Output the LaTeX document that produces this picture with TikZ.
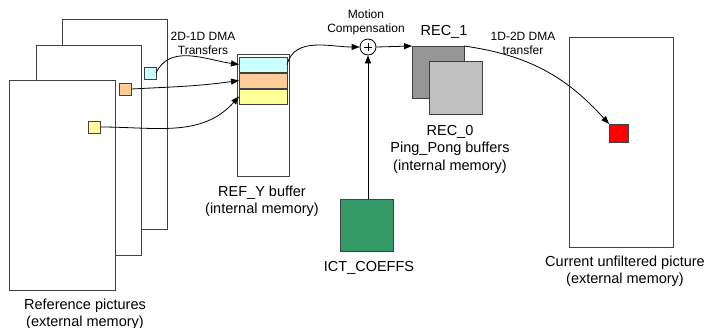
\documentclass[tikz,border=0pt]{standalone}
\usepackage{fontspec}
\setmainfont{Liberation Sans}
\usetikzlibrary{arrows.meta}
\definecolor{bord}{HTML}{404040}
\definecolor{cyanf}{HTML}{CCFFFF}
\definecolor{orangef}{HTML}{FFCC99}
\definecolor{yellowf}{HTML}{FFFF99}
\definecolor{darkg}{HTML}{969696}
\definecolor{lightg}{HTML}{C0C0C0}
\definecolor{greenf}{HTML}{339966}
\definecolor{redf}{HTML}{FF0000}
\tikzset{
  box/.style={draw=bord, line width=1pt, inner sep=0pt, outer sep=0pt},
  bigtxt/.style={font=\fontsize{14.5}{17.5}\selectfont, align=center, inner sep=0pt},
  smalltxt/.style={font=\fontsize{12}{14}\selectfont, align=center, inner sep=0pt},
  arr/.style={draw=black, line width=0.8pt, -{Triangle[length=8pt,width=6pt]}},
}
\begin{document}
\begin{tikzpicture}[x=1pt,y=-1pt]
\useasboundingbox (0,0) rectangle (706,327);
% reference pictures
\node[box, fill=white, minimum width=105, minimum height=210] (pic3) at (114.5,124) {};
\node[box, fill=white, minimum width=105, minimum height=210] (pic2) at (88.5,150) {};
\node[box, fill=white, minimum width=106, minimum height=210] (pic1) at (62,185) {};
\node[box, fill=cyanf, minimum width=12, minimum height=12] (sqc) at (150,73) {};
\node[box, fill=orangef, minimum width=12, minimum height=12] (sqo) at (125.5,89) {};
\node[box, fill=yellowf, minimum width=12, minimum height=12] (sqy) at (94.5,127) {};
\node[bigtxt] (reflab) at (85,314) {Reference pictures\\(external memory)};
% REF_Y buffer
\node[box, fill=white, minimum width=52, minimum height=122] (refy) at (263,115) {};
\node[box, fill=cyanf, minimum width=48, minimum height=15] (stc) at (263,64.5) {};
\node[box, fill=orangef, minimum width=48, minimum height=15] (sto) at (263,80.5) {};
\node[box, fill=yellowf, minimum width=48, minimum height=15] (sty) at (263,96.5) {};
\node[bigtxt] (refylab) at (262,201) {REF\_Y buffer\\(internal memory)};
\node[smalltxt] (dma1) at (203,43) {2D-1D DMA\\Transfers};
% sum
\node[draw=black, line width=0.8pt, circle, minimum size=16, inner sep=0pt] (sum) at (368,47) {};
\draw[line width=0.7pt] (sum.center) ++(-4,0) -- ++(8,0);
\draw[line width=0.7pt] (sum.center) ++(0,-4) -- ++(0,8);
\node[smalltxt] (mclab) at (366,22) {Motion\\Compensation};
% REC buffers
\node[box, fill=darkg, minimum width=52, minimum height=52] (rec1) at (438,72) {};
\node[box, fill=lightg, minimum width=53, minimum height=53] (rec0) at (455.5,87.5) {};
\node[bigtxt] (rec1lab) at (444,32) {REC\_1};
\node[bigtxt] (rec0lab) at (450,149) {REC\_0\\Ping\_Pong buffers\\(internal memory)};
% ICT
\node[box, fill=greenf, minimum width=53, minimum height=52] (ict) at (366.5,225) {};
\node[bigtxt] (ictlab) at (369,268) {ICT\_COEFFS};
% current picture
\node[box, fill=white, minimum width=104, minimum height=210] (cur) at (621,142) {};
\node[box, fill=redf, minimum width=19, minimum height=18] (red) at (618.5,133) {};
\node[bigtxt] (curlab) at (625,271) {Current unfiltered picture\\(external memory)};
\node[smalltxt] (dma2) at (523,43) {1D-2D DMA\\transfer};
% connectors
\draw[arr] (sqc.east) to[out=65,in=172] (stc.west);
\draw[arr] (sqo.east) to[out=3,in=188] (sto.west);
\draw[arr] (sqy.east) to[out=0,in=228] (sty.west);
\draw[arr] (stc.east) to[out=75,in=180] (sum.west);
\draw[arr] (sum.east) -- (rec1.north west);
\draw[arr] (ict.north -| sum.south) -- (sum.south);
\draw[arr] (rec1.north east) to[out=-8,in=132] (red.north west);
\end{tikzpicture}
\end{document}
